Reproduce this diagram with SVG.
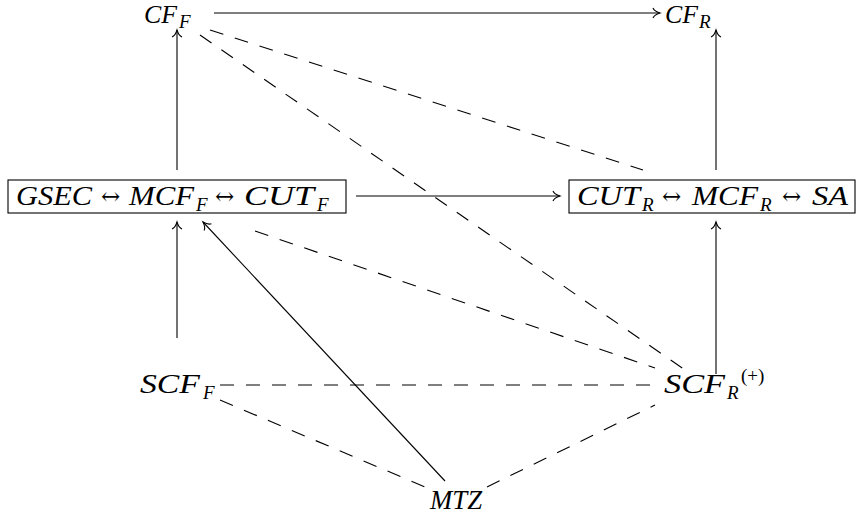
<svg xmlns="http://www.w3.org/2000/svg" width="863" height="519" viewBox="0 0 863 519">
<style>
.m{font-family:"Liberation Serif","Times New Roman",serif;font-style:italic;font-size:27px;fill:#000}
.t{font-size:26px}
.s{font-size:19px}
.a{font-family:"DejaVu Serif","Liberation Serif",serif;font-style:normal;font-size:23px}
.r{font-style:normal}
.ln{stroke:#000;stroke-width:1.1;fill:none}
.ar{marker-end:url(#to)}
.d{stroke:#000;stroke-width:1.1;fill:none;stroke-dasharray:14 12}
.bx{fill:none;stroke:#000;stroke-width:1.1}
</style>
<defs>
<marker id="to" markerUnits="userSpaceOnUse" markerWidth="14" markerHeight="14" viewBox="-10 -7 14 14" refX="0" refY="0" orient="auto" overflow="visible">
<path d="M-7,-5 C-6,-2.5 -2,-0.6 0,0 C-2,0.6 -6,2.5 -7,5" fill="none" stroke="#000" stroke-width="1.1"/>
</marker>
</defs>
<rect width="863" height="519" fill="#fff"/>
<g id="connectors">
<line class="ln ar" x1="214" y1="13" x2="660" y2="13"/>
<line class="ln ar" x1="177" y1="170" x2="177" y2="30"/>
<line class="ln ar" x1="716" y1="170" x2="716" y2="30"/>
<line class="ln ar" x1="356" y1="196" x2="560" y2="196"/>
<line class="ln ar" x1="177" y1="338" x2="177" y2="222"/>
<line class="ln ar" x1="716" y1="374" x2="716" y2="222"/>
<line class="ln ar" x1="445" y1="481" x2="203" y2="222"/>
<line class="d" x1="210" y1="30" x2="643" y2="170"/>
<line class="d" x1="200" y1="35" x2="688" y2="372"/>
<line class="d" x1="255" y1="231" x2="655" y2="368"/>
<line class="d" x1="220" y1="385" x2="652" y2="385"/>
<line class="d" x1="220" y1="400" x2="425" y2="487"/>
<line class="d" x1="487" y1="487" x2="655" y2="405"/>
</g>
<g id="cff">
<text class="m t" y="23"><tspan x="144" textLength="33" lengthAdjust="spacingAndGlyphs">CF</tspan><tspan class="s" x="179" y="28">F</tspan></text>
</g>
<g id="cfr">
<text class="m t" y="23"><tspan x="665" textLength="33" lengthAdjust="spacingAndGlyphs">CF</tspan><tspan class="s" x="699" y="28">R</tspan></text>
</g>
<g id="box1">
<rect class="bx" x="8" y="180" width="338" height="33"/>
<text class="m" y="205"><tspan x="16" textLength="76" lengthAdjust="spacingAndGlyphs">GSEC</tspan><tspan class="a" x="101" y="204">↔</tspan><tspan x="129" y="205" textLength="65" lengthAdjust="spacingAndGlyphs">MCF</tspan><tspan class="s" x="196" y="211">F</tspan><tspan class="a" x="215" y="204">↔</tspan><tspan x="244" y="205" textLength="70" lengthAdjust="spacingAndGlyphs">CUT</tspan><tspan class="s" x="317" y="211">F</tspan></text>
</g>
<g id="box2">
<rect class="bx" x="569" y="180" width="286" height="33"/>
<text class="m" y="205"><tspan x="577" textLength="63" lengthAdjust="spacingAndGlyphs">CUT</tspan><tspan class="s" x="642" y="211">R</tspan><tspan class="a" x="662" y="204">↔</tspan><tspan x="692" y="205" textLength="66" lengthAdjust="spacingAndGlyphs">MCF</tspan><tspan class="s" x="760" y="211">R</tspan><tspan class="a" x="782" y="204">↔</tspan><tspan x="812" y="205" textLength="36" lengthAdjust="spacingAndGlyphs">SA</tspan></text>
</g>
<g id="scff">
<text class="m" y="393"><tspan x="140" textLength="60" lengthAdjust="spacingAndGlyphs">SCF</tspan><tspan class="s" x="203" y="399">F</tspan></text>
</g>
<g id="scfr">
<text class="m" y="393"><tspan x="664" textLength="61" lengthAdjust="spacingAndGlyphs">SCF</tspan><tspan class="s" x="727" y="399">R</tspan><tspan class="s r" x="741" y="382">(+)</tspan></text>
</g>
<g id="mtz">
<text class="m" y="509"><tspan x="430" textLength="52" lengthAdjust="spacingAndGlyphs">MTZ</tspan></text>
</g>
</svg>
